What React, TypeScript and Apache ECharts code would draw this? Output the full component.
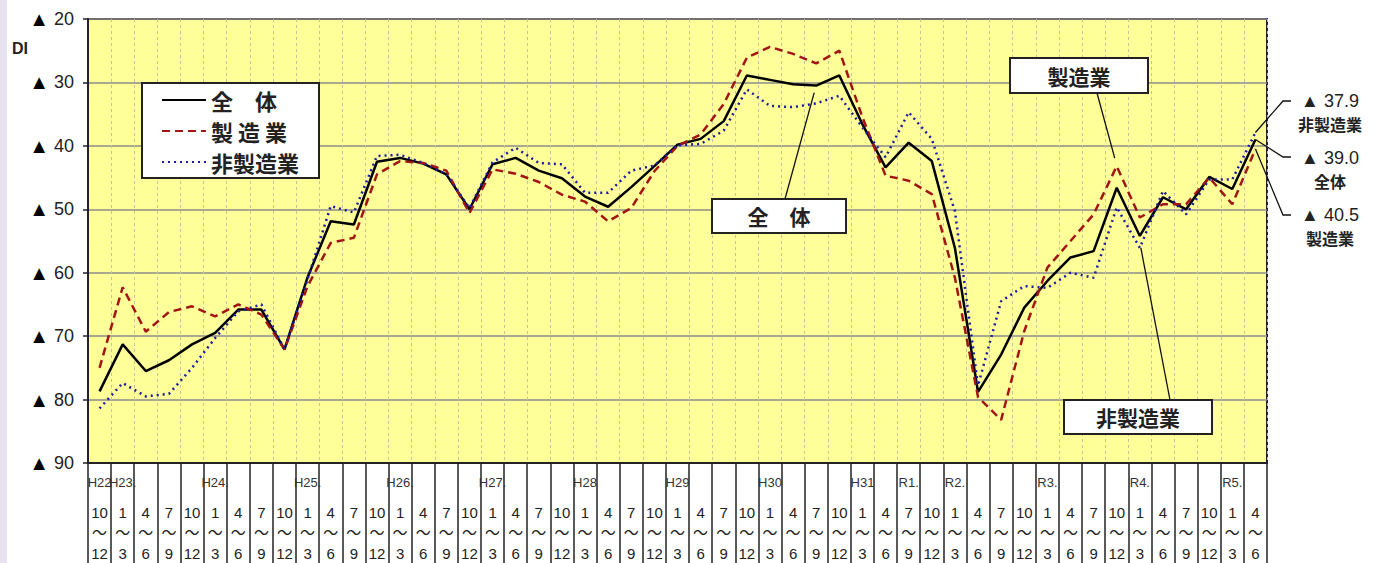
import React, { useEffect, useRef } from 'react';
import * as echarts from 'echarts';

const yearLabels = ['H22', 'H23.', '', '', '', 'H24.', '', '', '', 'H25.', '', '', '', 'H26.', '', '', '', 'H27.', '', '', '', 'H28', '', '', '', 'H29', '', '', '', 'H30', '', '', '', 'H31', '', 'R1.', '', 'R2.', '', '', '', 'R3.', '', '', '', 'R4.', '', '', '', 'R5.', ''];
const monthFrom = [10, 1, 4, 7, 10, 1, 4, 7, 10, 1, 4, 7, 10, 1, 4, 7, 10, 1, 4, 7, 10, 1, 4, 7, 10, 1, 4, 7, 10, 1, 4, 7, 10, 1, 4, 7, 10, 1, 4, 7, 10, 1, 4, 7, 10, 1, 4, 7, 10, 1, 4];
const monthTo = [12, 3, 6, 9, 12, 3, 6, 9, 12, 3, 6, 9, 12, 3, 6, 9, 12, 3, 6, 9, 12, 3, 6, 9, 12, 3, 6, 9, 12, 3, 6, 9, 12, 3, 6, 9, 12, 3, 6, 9, 12, 3, 6, 9, 12, 3, 6, 9, 12, 3, 6];

const allDI = [78.7, 71.3, 75.5, 73.8, 71.3, 69.5, 65.8, 65.8, 72.1, 60.7, 51.9, 52.4, 42.5, 41.9, 42.8, 44.5, 50.0, 42.9, 41.9, 43.9, 45.1, 48.0, 49.6, 46.5, 43.2, 39.8, 38.9, 36.1, 28.9, 29.6, 30.3, 30.5, 28.9, 36.6, 43.4, 39.5, 42.4, 56.1, 78.8, 72.9, 65.5, 61.3, 57.6, 56.6, 46.6, 54.2, 48.1, 50.0, 44.9, 46.8, 39.0];
const mfgDI = [75.0, 62.3, 69.3, 66.2, 65.3, 66.9, 65.0, 66.6, 72.1, 62.1, 55.3, 54.5, 44.5, 42.4, 42.7, 43.9, 50.6, 43.7, 44.4, 45.7, 47.7, 48.8, 51.9, 49.8, 44.0, 40.0, 38.2, 33.4, 26.1, 24.4, 25.5, 27.0, 25.0, 35.5, 44.7, 45.5, 47.6, 60.8, 79.6, 83.2, 69.2, 59.2, 55.0, 50.8, 43.2, 51.3, 49.2, 49.2, 45.0, 49.2, 40.5];
const nonMfgDI = [81.4, 77.4, 79.5, 79.1, 75.0, 70.3, 66.1, 65.0, 72.1, 61.0, 49.5, 50.5, 41.6, 41.4, 42.7, 44.5, 49.8, 42.6, 40.3, 42.7, 42.9, 47.4, 47.4, 43.9, 43.1, 39.9, 39.7, 37.6, 31.1, 33.7, 33.9, 33.3, 32.1, 37.1, 41.8, 34.7, 38.9, 50.3, 77.8, 64.5, 62.1, 62.4, 60.0, 60.8, 49.7, 56.1, 47.1, 50.8, 45.3, 45.3, 37.9];

const seriesNames = ['全　体', '製 造 業', '非製造業'];
const boxLabels = ['全　体', '製造業', '非製造業'];
const endLabels = ['非製造業', '全体', '製造業'];

const CJK = '"Noto Sans CJK JP", sans-serif';
const SANS = '"Liberation Sans", Arial, "Noto Sans CJK JP", sans-serif';

export default function App() {
  const ref = useRef<HTMLDivElement>(null);
  useEffect(() => {
    document.body.style.margin = '0';
    const chart = echarts.init(ref.current!, null, { renderer: 'svg' });
    const cats = yearLabels.map((y, i) => `${y}${monthFrom[i]}-${monthTo[i]}`);
    chart.setOption({
      animation: false,
      backgroundColor: '#ffffff',
      grid: {
        left: 88, top: 19, right: 106, bottom: 100,
        show: true, backgroundColor: '#FFFF99', borderColor: '#222', borderWidth: 2,
      },
      legend: {
        orient: 'vertical', left: 142, top: 83,
        padding: [6, 20, 5, 19], itemGap: 9, itemWidth: 44, itemHeight: 14,
        backgroundColor: '#fff', borderColor: '#222', borderWidth: 2,
        itemStyle: { color: 'transparent', borderColor: 'transparent', borderWidth: 0 },
        textStyle: { fontSize: 22, fontWeight: 'bold', color: '#222', fontFamily: CJK },
        data: seriesNames,
      },
      xAxis: {
        type: 'category', data: cats, boundaryGap: true,
        axisLine: { show: true, lineStyle: { color: '#222', width: 2 } },
        axisTick: { show: true, interval: 0, length: 100, lineStyle: { color: '#222', width: 1.5 } },
        splitLine: { show: true, interval: 0, lineStyle: { color: '#c4c49a', type: [3, 3], width: 1 } },
        axisLabel: {
          interval: 0, margin: 9,
          formatter: (_v: string, i: number) =>
            `{y|${yearLabels[i] || ' '}}\n{s| }\n{n|${monthFrom[i]}}\n{n|～}\n{n|${monthTo[i]}}`,
          rich: {
            y: { fontSize: 13, lineHeight: 20, color: '#333', fontFamily: SANS },
            s: { fontSize: 4, lineHeight: 10 },
            n: { fontSize: 15, lineHeight: 20.5, color: '#222', fontFamily: SANS },
          },
        },
      },
      yAxis: {
        type: 'value', inverse: true, min: 20, max: 90, interval: 10,
        axisLine: { show: true, lineStyle: { color: '#222', width: 2 } },
        axisTick: { show: true, length: 5, lineStyle: { color: '#222', width: 1.5 } },
        splitLine: { show: true, lineStyle: { color: '#8c8c8c', width: 1.5 } },
        axisLabel: {
          margin: 14, fontSize: 18, color: '#222', fontFamily: SANS,
          formatter: (v: number) => `{t|▲} ${v}`,
          rich: { t: { fontSize: 20, color: '#000', fontFamily: SANS } },
        },
      },
      series: [
        {
          name: seriesNames[0], type: 'line', data: allDI, symbol: 'none',
          lineStyle: { color: '#000', width: 2.5, type: 'solid' }, itemStyle: { color: '#000' },
        },
        {
          name: seriesNames[1], type: 'line', data: mfgDI, symbol: 'none',
          lineStyle: { color: '#A31515', width: 2.5, type: [8, 5] }, itemStyle: { color: '#A31515' },
        },
        {
          name: seriesNames[2], type: 'line', data: nonMfgDI, symbol: 'none',
          lineStyle: { color: '#1C1CA0', width: 2.5, type: [2, 4] }, itemStyle: { color: '#1C1CA0' },
        },
      ],
    });

    const px = (i: number, v: number) => chart.convertToPixel({ gridIndex: 0 }, [i, v]) as number[];
    const last = allDI.length - 1;
    const pAll31 = px(31, allDI[31]);
    const pMfg44 = px(44, mfgDI[44]);
    const pNon45 = px(45, nonMfgDI[45]);
    const eNon = px(last, nonMfgDI[last]);
    const eAll = px(last, allDI[last]);
    const eMfg = px(last, mfgDI[last]);

    const box = (x: number, y: number, w: number, h: number, text: string) => ({
      type: 'group', children: [
        { type: 'rect', shape: { x, y, width: w, height: h }, style: { fill: '#fff', stroke: '#222', lineWidth: 2 }, z: 10 },
        { type: 'text', x: x + w / 2, y: y + h / 2, z: 11, style: { text, fill: '#222', font: `bold 21px ${CJK}`, align: 'center', verticalAlign: 'middle' } },
      ],
    });
    const line = (pts: number[][]) => ({ type: 'polyline', z: 9, shape: { points: pts }, style: { stroke: '#111', lineWidth: 1.3, fill: 'none' } });
    const txt = (x: number, y: number, text: string, font: string) => ({
      type: 'text', x, y, z: 11, style: { text, fill: '#222', font, align: 'center', verticalAlign: 'middle' },
    });

    chart.setOption({
      graphic: [
        { type: 'rect', shape: { x: 0, y: 0, width: 7, height: 563 }, style: { fill: '#E7E2EF' } },
        { type: 'text', x: 12, y: 48, style: { text: 'DI', fill: '#222', font: `bold 16px ${SANS}`, verticalAlign: 'middle' } },
        line([[785, 199], [pAll31[0] - 2, pAll31[1] + 7]]),
        line([[1097, 93], [pMfg44[0] - 2, pMfg44[1] - 8]]),
        line([[1170, 400], [pNon45[0] + 1, pNon45[1]]]),
        box(712, 199, 134, 34, boxLabels[0]),
        box(1010, 58, 138, 35, boxLabels[1]),
        box(1064, 400, 148, 34, boxLabels[2]),
        line([[eNon[0], eNon[1]], [1283, 101], [1291, 101]]),
        line([[eAll[0], eAll[1]], [1283, 157], [1291, 157]]),
        line([[eMfg[0], eMfg[1]], [1283, 215], [1291, 215]]),
        txt(1330, 101, `▲ ${nonMfgDI[last].toFixed(1)}`, `18px ${SANS}`),
        txt(1330, 124, endLabels[0], `bold 16px ${CJK}`),
        txt(1330, 158, `▲ ${allDI[last].toFixed(1)}`, `18px ${SANS}`),
        txt(1330, 181, endLabels[1], `bold 16px ${CJK}`),
        txt(1330, 215, `▲ ${mfgDI[last].toFixed(1)}`, `18px ${SANS}`),
        txt(1330, 238, endLabels[2], `bold 16px ${CJK}`),
      ],
    });
    return () => chart.dispose();
  }, []);
  return <div ref={ref} style={{ width: 1373, height: 563 }} />;
}
